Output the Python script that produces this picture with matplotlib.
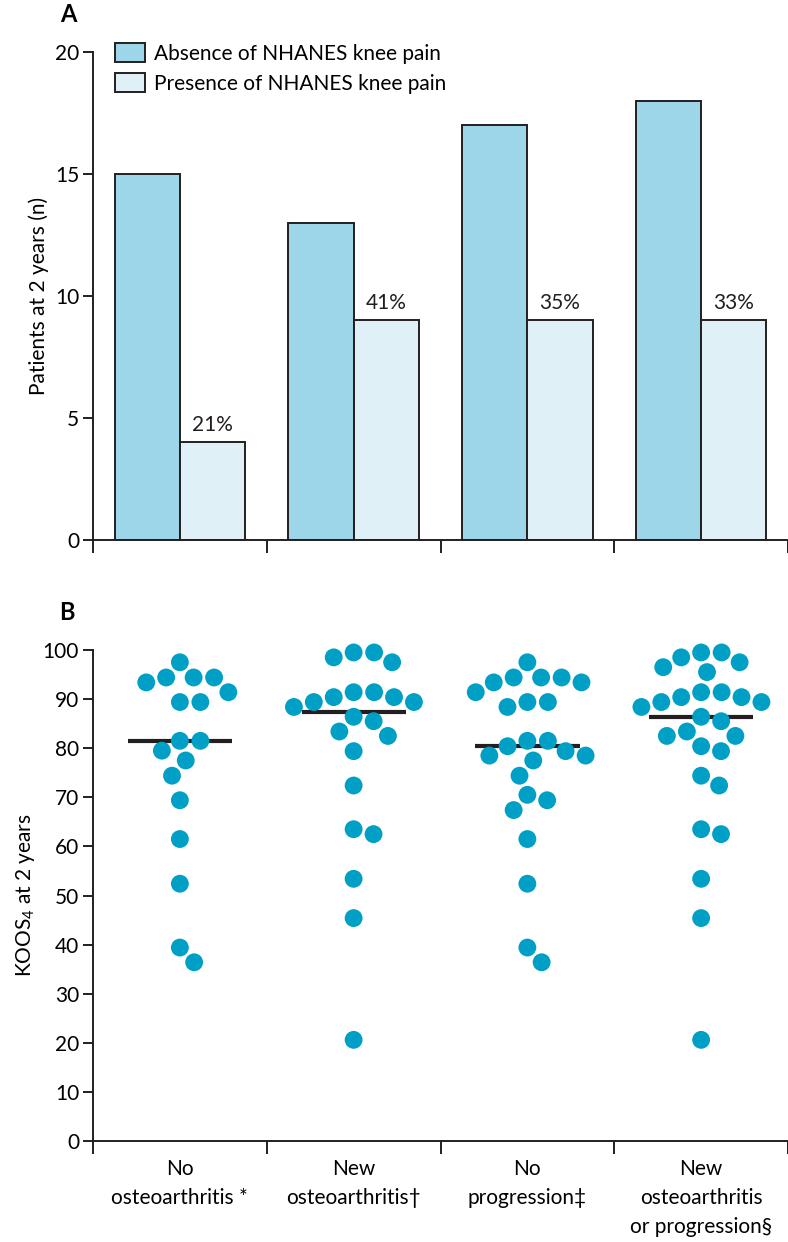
import numpy as np
import matplotlib
matplotlib.use("Agg")
import matplotlib.pyplot as plt
from matplotlib.patches import Patch

plt.rcParams['font.family'] = ['Lato', 'DejaVu Sans']
plt.rcParams['mathtext.default'] = 'regular'
plt.rcParams['font.size'] = 15

# ---- data ----
groups = ["No\nosteoarthritis *", "New\nosteoarthritis\u2020",
          "No\nprogression\u2021", "New\nosteoarthritis\nor progression\u00a7"]
absent_n = [15, 13, 17, 18]
present_n = [4, 9, 9, 9]
present_pct = ["21%", "41%", "35%", "33%"]

koos_no_oa = [97.5, 94.4, 94.4, 94.4, 93.4, 91.4, 89.4, 89.4, 81.5, 81.5,
              79.5, 77.5, 74.4, 69.4, 61.5, 52.4, 39.4, 36.4]
koos_new_oa = [99.5, 99.5, 98.5, 97.5, 91.4, 91.4, 90.4, 90.4, 89.4, 89.4,
               88.4, 86.4, 85.5, 83.4, 82.5, 79.4, 72.4, 63.5, 62.5, 53.4,
               45.4, 20.6]
koos_no_prog = [97.5, 94.4, 94.4, 94.4, 93.4, 93.4, 91.4, 89.4, 89.4, 88.4,
                81.5, 81.5, 80.4, 79.4, 78.5, 78.5, 77.5, 74.4, 70.5, 69.4,
                67.4, 61.5, 52.4, 39.4, 36.4]
koos_new_or_prog = [99.5, 99.5, 98.5, 97.5, 96.5, 95.5, 91.4, 91.4, 90.4,
                    90.4, 89.4, 89.4, 88.4, 86.4, 85.5, 83.4, 82.5, 82.5,
                    80.4, 79.4, 74.4, 72.4, 63.5, 62.5, 53.4, 45.4, 20.6]
koos = [koos_no_oa, koos_new_oa, koos_no_prog, koos_new_or_prog]

c_abs = '#9dd6e8'
c_pres = '#dff0f7'
c_dot = '#00a0c6'
c_ink = '#231f20'


def swarm(values, diam, sx, sy):
    # simple greedy beeswarm, worked out in pixels
    order = np.argsort(values)[::-1]
    placed = []
    out = np.zeros(len(values))
    for i in order:
        y = values[i] * sy
        cands = [0.0]
        for xp, yp in placed:
            dy = y - yp
            if abs(dy) < diam:
                dx = np.sqrt(diam ** 2 - dy ** 2)
                cands += [xp + dx, xp - dx]
        cands.sort(key=abs)
        for c in cands:
            if all((c - xp) ** 2 + (y - yp) ** 2 >= diam ** 2 - 1e-6 for xp, yp in placed):
                out[i] = c
                placed.append((c, y))
                break
    return out / sx


def style(ax, ymax, step):
    for s in ['top', 'right']:
        ax.spines[s].set_visible(False)
    ax.spines['left'].set_bounds(0, ymax)
    for s in ['left', 'bottom']:
        ax.spines[s].set_linewidth(1.4)
        ax.spines[s].set_color(c_ink)
    ax.set_xlim(0.5, 4.5)
    ax.set_ylim(0, ymax)
    ax.set_yticks(np.arange(0, ymax + 1, step))
    ax.set_xticks(np.arange(0.5, 4.6, 1))
    ax.set_xticklabels([])
    ax.tick_params(axis='y', length=7, width=1.4, color=c_ink, labelsize=15, pad=3)
    ax.tick_params(axis='x', length=9, width=1.4, color=c_ink)


fig = plt.figure(figsize=(7.88, 12.42), dpi=100)
W, H = 788, 1242

# ---- panel A ----
axA = fig.add_axes([93 / W, (H - 540) / H, 695 / W, 488 / H])
axA.patch.set_alpha(0)
ind = np.arange(1, 5)
bw = 0.375
axA.bar(ind - bw / 2, absent_n, bw, color=c_abs, edgecolor=c_ink, linewidth=1.4)
rb = axA.bar(ind + bw / 2, present_n, bw, color=c_pres, edgecolor=c_ink, linewidth=1.4)
for r, lab in zip(rb, present_pct):
    axA.annotate(lab, (r.get_x() + r.get_width() / 2, r.get_height()),
                 xytext=(0, 5), textcoords='offset points',
                 ha='center', va='bottom', fontsize=15, color=c_ink)
style(axA, 20, 5)
axA.set_ylabel("Patients at 2 years (n)", fontsize=15, labelpad=4)
handles = [Patch(facecolor=c_abs, edgecolor=c_ink, linewidth=1.4),
           Patch(facecolor=c_pres, edgecolor=c_ink, linewidth=1.4)]
axA.legend(handles, ["Absence of NHANES knee pain", "Presence of NHANES knee pain"],
           loc='upper left', bbox_to_anchor=(0.02, 1.035), frameon=False,
           fontsize=15, handlelength=1.45, handleheight=1.0, handletextpad=0.4,
           labelspacing=0.45, borderaxespad=0)
fig.text(68 / W, 1 - 14 / H, "A", fontsize=17, fontweight='bold', ha='center', va='center')

# ---- panel B ----
axB = fig.add_axes([93 / W, (H - 1141) / H, 695 / W, 491 / H])
axB.patch.set_alpha(0)
style(axB, 100, 10)
sx = 695 / 4.0
sy = 491 / 100.0
for i, vals in enumerate(koos):
    vals = np.array(vals)
    xo = swarm(vals, 20.5, sx, sy)
    axB.scatter(ind[i] + xo, vals, s=165, color=c_dot, edgecolors='none',
                zorder=3, clip_on=False)
    med = np.median(vals)
    axB.plot([ind[i] - 0.3, ind[i] + 0.3], [med, med], color=c_ink, lw=3, zorder=2,
             solid_capstyle='butt')
axB.set_xticks(ind, minor=True)
axB.set_xticklabels(groups, minor=True, fontsize=15, linespacing=1.55, va='top')
axB.tick_params(axis='x', which='minor', length=0, pad=13)
axB.set_ylabel("KOOS$_4$ at 2 years", fontsize=15, labelpad=4)
fig.text(67 / W, 1 - 612 / H, "B", fontsize=17, fontweight='bold', ha='center', va='center')

fig.savefig("out.png", dpi=100)
